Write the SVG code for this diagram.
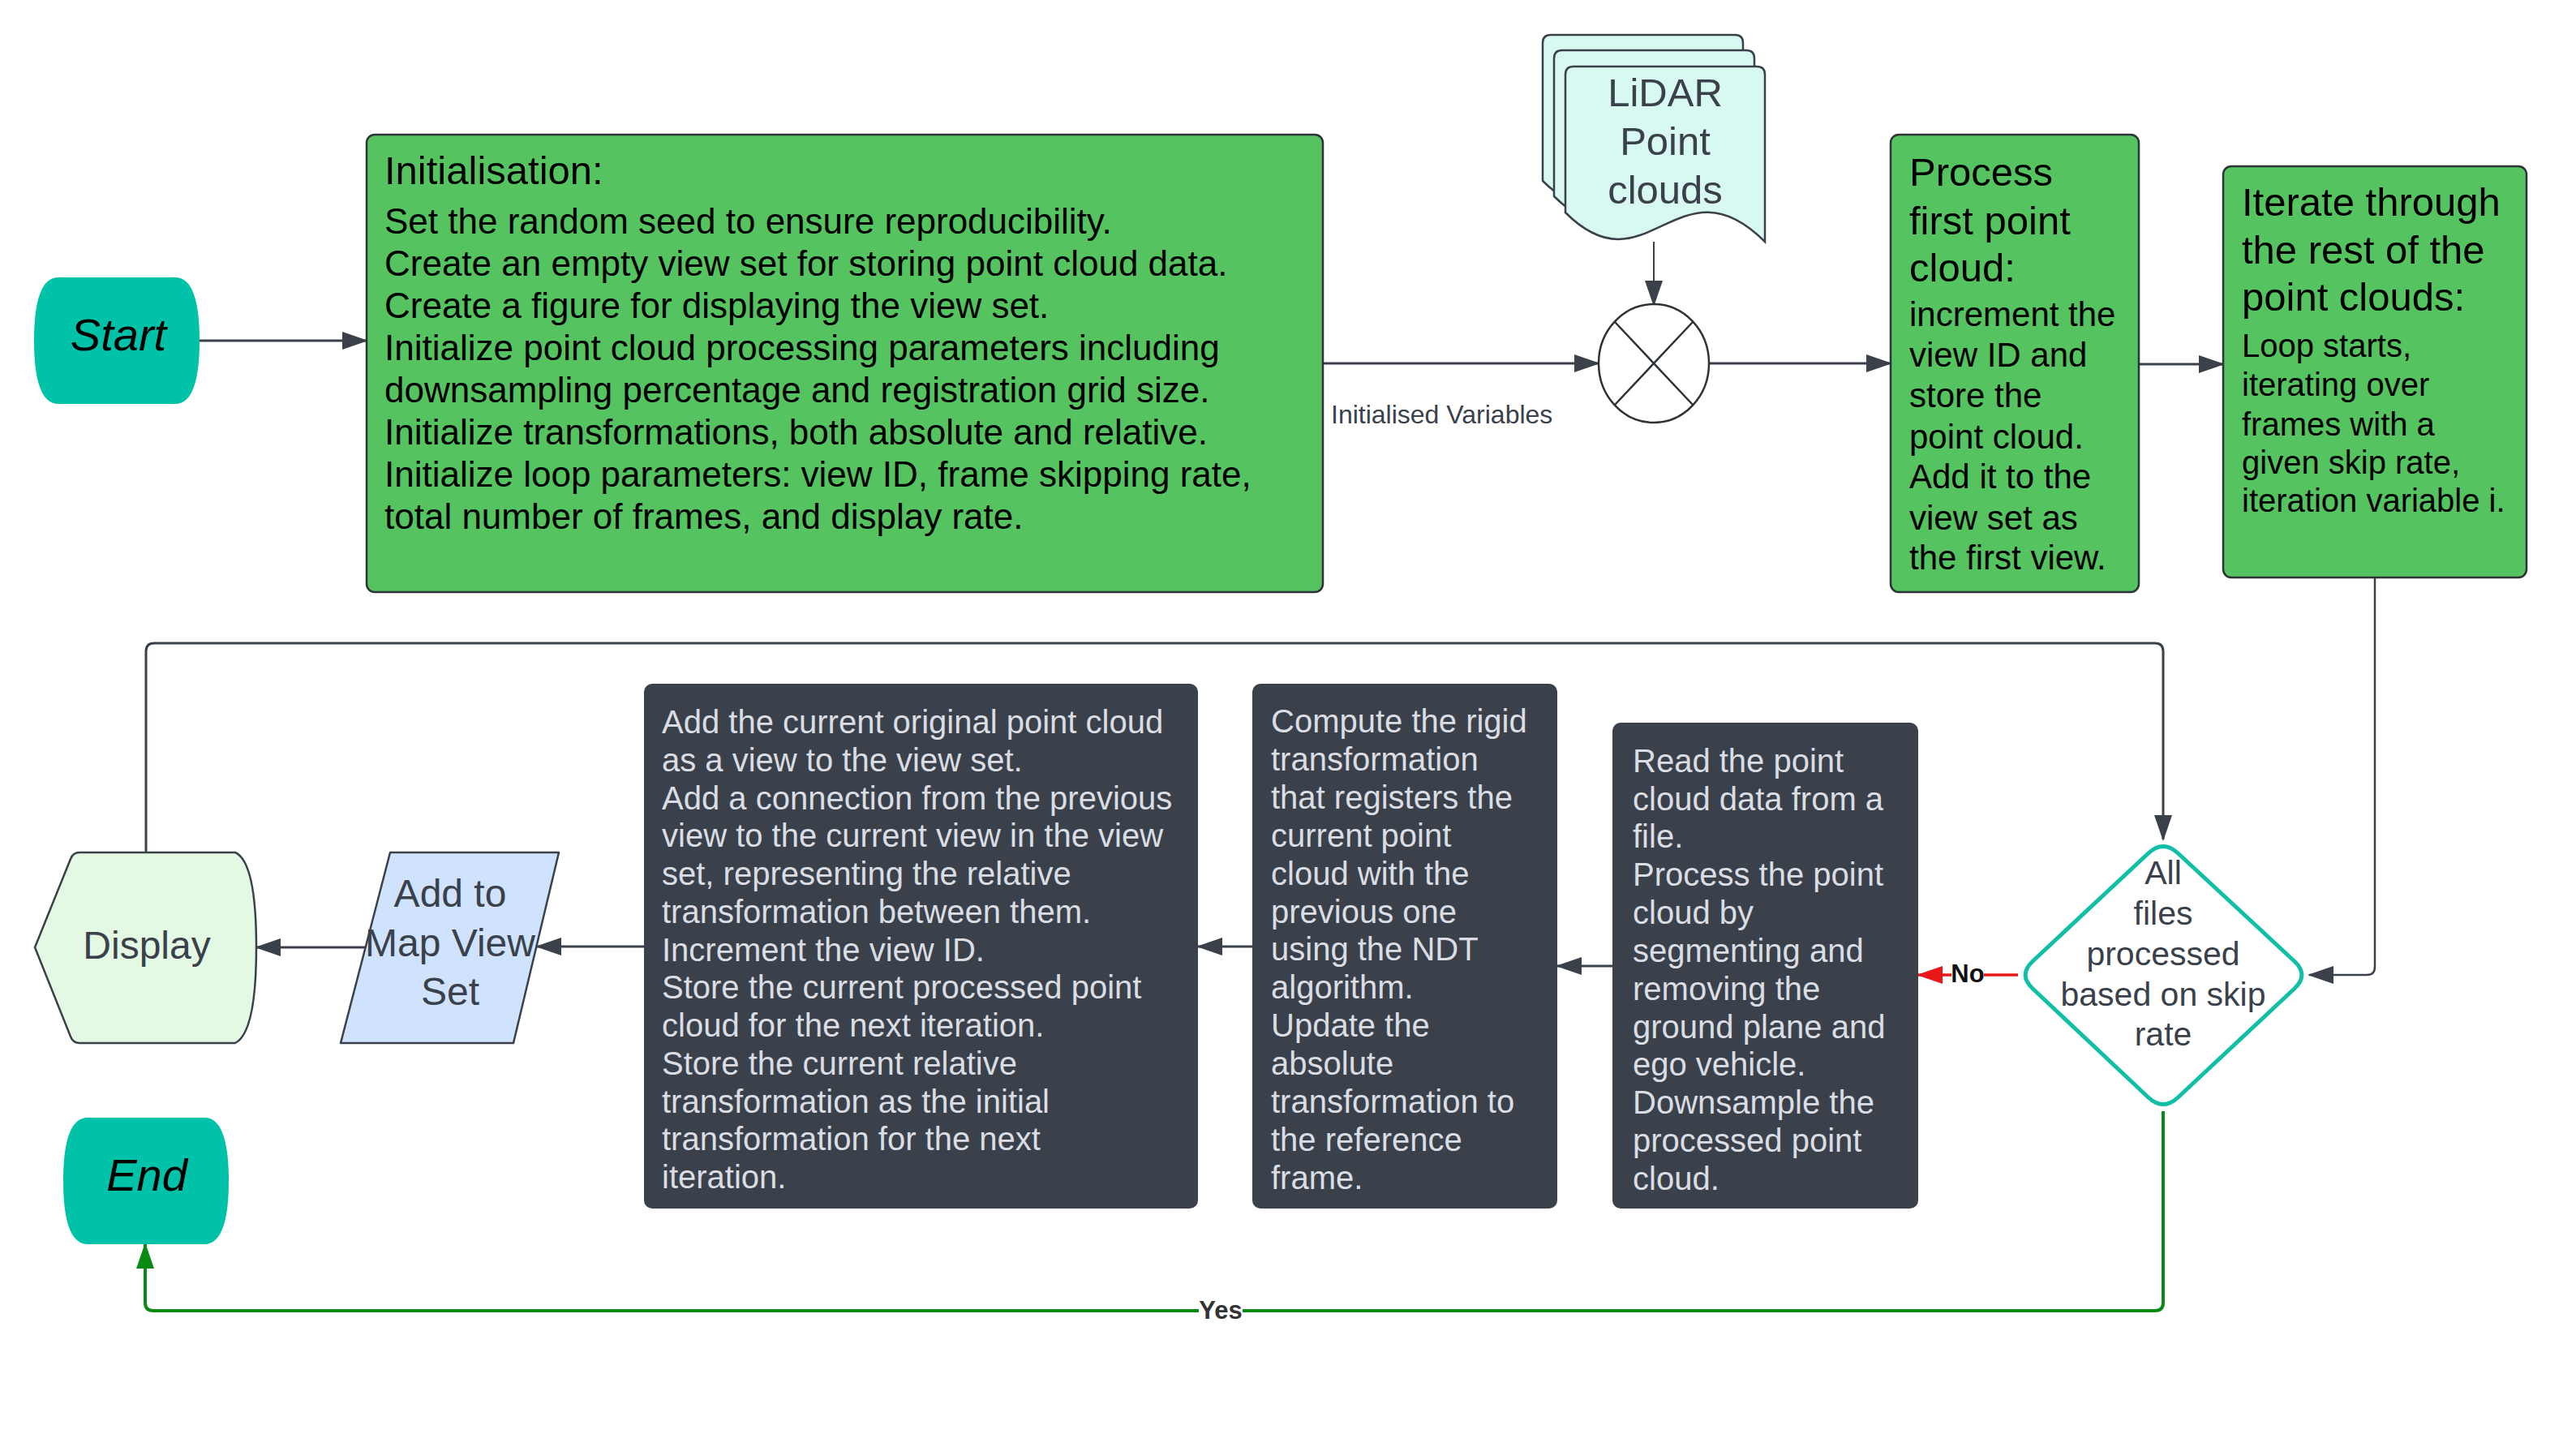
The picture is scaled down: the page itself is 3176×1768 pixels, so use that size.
<svg xmlns="http://www.w3.org/2000/svg" width="3176" height="1768" viewBox="0 0 3176 1768">
<style>
text{font-family:"Liberation Sans",Arial,sans-serif}
.green{fill:#55c35f;stroke:#2e3338;stroke-width:2.5}
.dark{fill:#3b414b}
.title{font-size:49px;fill:#000}
.body{font-size:44px;fill:#000}
.body42{font-size:42px;fill:#000}
.body40{font-size:40px;fill:#000}
.dtext{font-size:40px;fill:#dadde3}
.gtext{fill:#3a414a;text-anchor:middle}
.conn{fill:none;stroke:#3a414a;stroke-width:3}
.lbl{font-size:31px;font-weight:bold;text-anchor:middle}
</style>
<defs>
<marker id="ah" viewBox="0 0 32 22" refX="30" refY="11" markerWidth="32" markerHeight="22" markerUnits="userSpaceOnUse" orient="auto"><path d="M0,0 L32,11 L0,22 z" fill="#3a414a"/></marker>
<marker id="ahr" viewBox="0 0 32 22" refX="30" refY="11" markerWidth="32" markerHeight="22" markerUnits="userSpaceOnUse" orient="auto"><path d="M0,0 L32,11 L0,22 z" fill="#e81818"/></marker>
<marker id="ahg" viewBox="0 0 32 22" refX="30" refY="11" markerWidth="32" markerHeight="22" markerUnits="userSpaceOnUse" orient="auto"><path d="M0,0 L32,11 L0,22 z" fill="#088a15"/></marker>
</defs>
<rect width="3176" height="1768" fill="#ffffff"/>

<g id="connectors">
<path class="conn" d="M246,420 L452,420" marker-end="url(#ah)"/>
<path class="conn" d="M1631,448 L1971,448" marker-end="url(#ah)"/>
<path class="conn" d="M2039,298 L2039,376" marker-end="url(#ah)" style="stroke-width:2"/>
<path class="conn" d="M2107,448 L2331,448" marker-end="url(#ah)"/>
<path class="conn" d="M2637,449 L2741,449" marker-end="url(#ah)"/>
<path class="conn" d="M2928,712 L2928,1192 Q2928,1202 2918,1202 L2847,1202" marker-end="url(#ah)" style="stroke-width:2.5"/>
<path d="M2488,1202 L2365,1202" fill="none" stroke="#e81818" stroke-width="3.5" marker-end="url(#ahr)"/>
<path class="conn" d="M1988,1191 L1920,1191" marker-end="url(#ah)"/>
<path class="conn" d="M1544,1167 L1477,1167" marker-end="url(#ah)"/>
<path class="conn" d="M794,1167 L662,1167" marker-end="url(#ah)"/>
<path class="conn" d="M450,1168 L316,1168" marker-end="url(#ah)"/>
<path class="conn" d="M180,1051 L180,803 Q180,793 190,793 L2657,793 Q2667,793 2667,803 L2667,1035" marker-end="url(#ah)"/>
<path d="M2667,1370 L2667,1606 Q2667,1616 2657,1616 L189,1616 Q179,1616 179,1606 L179,1534" fill="none" stroke="#088a15" stroke-width="4" marker-end="url(#ahg)"/>
<text x="1641" y="522" style="font-size:32px;fill:#3a414a">Initialised Variables</text>
<rect x="2406" y="1184" width="40" height="34" fill="#ffffff"/>
<text class="lbl" x="2426" y="1211" fill="#111">No</text>
<rect x="1478" y="1598" width="54" height="34" fill="#ffffff"/>
<text class="lbl" x="1505" y="1626" fill="#333">Yes</text>
</g>

<g id="start">
<path d="M72,342 L216,342 Q246,342 246,420 Q246,498 216,498 L72,498 Q42,498 42,420 Q42,342 72,342 Z" fill="#00c2a9"/>
<text x="146" y="432" style="font-size:56px;font-style:italic;text-anchor:middle;fill:#000">Start</text>
</g>

<g id="init">
<rect class="green" x="452" y="166" width="1179" height="564" rx="10"/>
<text class="title" x="474" y="227">Initialisation:</text>
<text class="body" x="474" y="288">Set the random seed to ensure reproducibility.</text>
<text class="body" x="474" y="340">Create an empty view set for storing point cloud data.</text>
<text class="body" x="474" y="392">Create a figure for displaying the view set.</text>
<text class="body" x="474" y="444">Initialize point cloud processing parameters including</text>
<text class="body" x="474" y="496">downsampling percentage and registration grid size.</text>
<text class="body" x="474" y="548">Initialize transformations, both absolute and relative.</text>
<text class="body" x="474" y="600">Initialize loop parameters: view ID, frame skipping rate,</text>
<text class="body" x="474" y="652">total number of frames, and display rate.</text>
</g>

<g id="lidar">
<path d="M1902,53 Q1902,43 1912,43 L2139,43 Q2149,43 2149,53 L2149,259 C2043,153 2003,323 1902,223 Z" fill="#d8f8f2" stroke="#3a414a" stroke-width="2.5"/>
<path d="M1916,72 Q1916,62 1926,62 L2153,62 Q2163,62 2163,72 L2163,278 C2057,172 2017,342 1916,242 Z" fill="#d8f8f2" stroke="#3a414a" stroke-width="2.5"/>
<path d="M1930,92 Q1930,82 1940,82 L2166,82 Q2176,82 2176,92 L2176,298 C2070,192 2030,362 1930,262 Z" fill="#d8f8f2" stroke="#3a414a" stroke-width="2.5"/>
<text class="gtext" x="2053" y="131" style="font-size:49px">LiDAR</text>
<text class="gtext" x="2053" y="191" style="font-size:49px">Point</text>
<text class="gtext" x="2053" y="251" style="font-size:49px">clouds</text>
</g>

<g id="merge">
<ellipse cx="2039" cy="448" rx="68" ry="73" fill="#ffffff" stroke="#2e3338" stroke-width="2.5"/>
<path d="M1991,397 L2087,499 M2087,397 L1991,499" stroke="#2e3338" stroke-width="2.5"/>
</g>

<g id="process-first">
<rect class="green" x="2331" y="166" width="306" height="564" rx="10"/>
<text class="title" x="2354" y="229">Process</text>
<text class="title" x="2354" y="289">first point</text>
<text class="title" x="2354" y="347">cloud:</text>
<text class="body42" x="2354" y="402">increment the</text>
<text class="body42" x="2354" y="452">view ID and</text>
<text class="body42" x="2354" y="502">store the</text>
<text class="body42" x="2354" y="553">point cloud.</text>
<text class="body42" x="2354" y="602">Add it to the</text>
<text class="body42" x="2354" y="653">view set as</text>
<text class="body42" x="2354" y="702">the first view.</text>
</g>

<g id="iterate">
<rect class="green" x="2741" y="205" width="374" height="507" rx="10"/>
<text class="title" x="2764" y="266">Iterate through</text>
<text class="title" x="2764" y="325">the rest of the</text>
<text class="title" x="2764" y="383">point clouds:</text>
<text class="body40" x="2764" y="440">Loop starts,</text>
<text class="body40" x="2764" y="488">iterating over</text>
<text class="body40" x="2764" y="537">frames with a</text>
<text class="body40" x="2764" y="584">given skip rate,</text>
<text class="body40" x="2764" y="631">iteration variable i.</text>
</g>

<g id="decision">
<path d="M2685.3,1052 L2828.7,1185 Q2847,1202 2828.7,1219 L2685.3,1353 Q2667,1370 2648.7,1353 L2506.3,1219 Q2488,1202 2506.3,1185 L2648.7,1052 Q2667,1035 2685.3,1052 Z" fill="#ffffff" stroke="#10bfa6" stroke-width="5"/>
<text class="gtext" x="2667" y="1090" style="font-size:41px">All</text>
<text class="gtext" x="2667" y="1140" style="font-size:41px">files</text>
<text class="gtext" x="2667" y="1190" style="font-size:41px">processed</text>
<text class="gtext" x="2667" y="1240" style="font-size:41px">based on skip</text>
<text class="gtext" x="2667" y="1289" style="font-size:41px">rate</text>
</g>

<g id="read">
<rect class="dark" x="1988" y="891" width="377" height="599" rx="10"/>
<text class="dtext" x="2013" y="952">Read the point</text>
<text class="dtext" x="2013" y="999">cloud data from a</text>
<text class="dtext" x="2013" y="1045">file.</text>
<text class="dtext" x="2013" y="1092">Process the point</text>
<text class="dtext" x="2013" y="1139">cloud by</text>
<text class="dtext" x="2013" y="1186">segmenting and</text>
<text class="dtext" x="2013" y="1233">removing the</text>
<text class="dtext" x="2013" y="1280">ground plane and</text>
<text class="dtext" x="2013" y="1326">ego vehicle.</text>
<text class="dtext" x="2013" y="1373">Downsample the</text>
<text class="dtext" x="2013" y="1420">processed point</text>
<text class="dtext" x="2013" y="1467">cloud.</text>
</g>

<g id="compute">
<rect class="dark" x="1544" y="843" width="376" height="647" rx="10"/>
<text class="dtext" x="1567" y="903">Compute the rigid</text>
<text class="dtext" x="1567" y="950">transformation</text>
<text class="dtext" x="1567" y="997">that registers the</text>
<text class="dtext" x="1567" y="1044">current point</text>
<text class="dtext" x="1567" y="1091">cloud with the</text>
<text class="dtext" x="1567" y="1138">previous one</text>
<text class="dtext" x="1567" y="1184">using the NDT</text>
<text class="dtext" x="1567" y="1231">algorithm.</text>
<text class="dtext" x="1567" y="1278">Update the</text>
<text class="dtext" x="1567" y="1325">absolute</text>
<text class="dtext" x="1567" y="1372">transformation to</text>
<text class="dtext" x="1567" y="1419">the reference</text>
<text class="dtext" x="1567" y="1466">frame.</text>
</g>

<g id="add-view">
<rect class="dark" x="794" y="843" width="683" height="647" rx="10"/>
<text class="dtext" x="816" y="904">Add the current original point cloud</text>
<text class="dtext" x="816" y="951">as a view to the view set.</text>
<text class="dtext" x="816" y="998">Add a connection from the previous</text>
<text class="dtext" x="816" y="1044">view to the current view in the view</text>
<text class="dtext" x="816" y="1091">set, representing the relative</text>
<text class="dtext" x="816" y="1138">transformation between them.</text>
<text class="dtext" x="816" y="1185">Increment the view ID.</text>
<text class="dtext" x="816" y="1231">Store the current processed point</text>
<text class="dtext" x="816" y="1278">cloud for the next iteration.</text>
<text class="dtext" x="816" y="1325">Store the current relative</text>
<text class="dtext" x="816" y="1372">transformation as the initial</text>
<text class="dtext" x="816" y="1418">transformation for the next</text>
<text class="dtext" x="816" y="1465">iteration.</text>
</g>

<g id="map-view">
<path d="M481,1051 L689,1051 L633,1286 L420,1286 Z" fill="#cfe3ff" stroke="#3a414a" stroke-width="2.5" stroke-linejoin="round"/>
<text class="gtext" x="555" y="1118" style="font-size:48px">Add to</text>
<text class="gtext" x="555" y="1179" style="font-size:48px">Map View</text>
<text class="gtext" x="555" y="1239" style="font-size:48px">Set</text>
</g>

<g id="display">
<path d="M98,1051 L290,1051 C310,1060 316,1110 316,1168 C316,1226 310,1276 290,1286 L98,1286 Q90,1286 87,1278 L43,1168 L87,1059 Q90,1051 98,1051 Z" fill="#e3f9e3" stroke="#3a414a" stroke-width="2.5" stroke-linejoin="round"/>
<text class="gtext" x="181" y="1182" style="font-size:48px">Display</text>
</g>

<g id="end">
<path d="M108,1378 L252,1378 Q282,1378 282,1456 Q282,1534 252,1534 L108,1534 Q78,1534 78,1456 Q78,1378 108,1378 Z" fill="#00c2a9"/>
<text x="181" y="1468" style="font-size:56px;font-style:italic;text-anchor:middle;fill:#000">End</text>
</g>
</svg>
